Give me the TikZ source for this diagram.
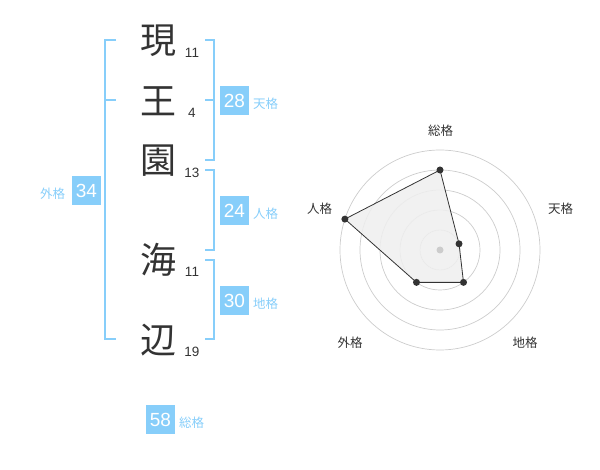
\documentclass[tikz,border=0pt]{standalone}
\usepackage{fontspec}
\setmainfont{Liberation Sans}
\newfontfamily\jpfont{Noto Sans CJK JP}
\definecolor{kakublue}{HTML}{87CEFA}
\definecolor{inkgray}{HTML}{333333}
\definecolor{ringgray}{HTML}{CCCCCC}
\definecolor{shadegray}{HTML}{EFEFEF}

\begin{document}
\begin{tikzpicture}[x=1pt,y=-1pt,
    kanji/.style={text=inkgray, font=\jpfont\fontsize{36}{36}\selectfont, inner sep=0pt},
    strokes/.style={text=inkgray, font=\fontsize{13.5}{13.5}\selectfont, inner sep=0pt, anchor=base},
    valbox/.style={fill=kakublue, text=white, font=\fontsize{19}{19}\selectfont, minimum width=29pt, minimum height=29pt, inner sep=0pt},
    kakulabel/.style={text=kakublue, font=\jpfont\fontsize{12.5}{12.5}\selectfont, inner sep=0pt},
    bracket/.style={kakublue, line width=2.2pt},
    ring/.style={ringgray, line width=0.7pt},
    axislabel/.style={text=inkgray, font=\jpfont\fontsize{12.5}{12.5}\selectfont, inner sep=0pt},
    dot/.style={fill=inkgray}]
    \useasboundingbox (0,0) rectangle (600,470);
    % name, one character per row
    \node[kanji] (k1) at (158,41) {現};
    \node[kanji] (k2) at (158,101) {王};
    \node[kanji] (k3) at (158,161) {園};
    \node[kanji] (k4) at (158,260) {海};
    \node[kanji] (k5) at (158,340) {辺};
    % stroke counts
    \node[strokes] (s1) at (192,58) {11};
    \node[strokes] (s2) at (192,118) {4};
    \node[strokes] (s3) at (192,178) {13};
    \node[strokes] (s4) at (192,277) {11};
    \node[strokes] (s5) at (192,357) {19};
    % brackets
    \draw[bracket] (116,40) -- (105,40) -- (105,339) -- (116,339);
    \draw[bracket] (105,100) -- (116,100);
    \draw[bracket] (205,40) -- (214,40) -- (214,160) -- (205,160);
    \draw[bracket] (205,100) -- (214,100);
    \draw[bracket] (205,170) -- (214,170) -- (214,250) -- (205,250);
    \draw[bracket] (205,260) -- (214,260) -- (214,339) -- (205,339);
    % values
    \node[valbox] (gai) at (86.5,190.5) {34};
    \node[kakulabel] (gai-l) at (52.5,194) {外格};
    \node[valbox] (ten) at (234.5,100.5) {28};
    \node[kakulabel, anchor=west] (ten-l) at (253,104) {天格};
    \node[valbox] (jin) at (234.5,210.5) {24};
    \node[kakulabel, anchor=west] (jin-l) at (253,214) {人格};
    \node[valbox] (chi) at (234.5,300.5) {30};
    \node[kakulabel, anchor=west] (chi-l) at (253,304) {地格};
    \node[valbox] (sou) at (160.5,419.5) {58};
    \node[kakulabel, anchor=west] (sou-l) at (179,423) {総格};
    % radar chart
    \begin{scope}[shift={(440,250)}, yscale=-1]
        \foreach \r in {20,40,...,100}
            \draw[ring] (0,0) circle (\r);
        \coordinate (r-sou) at (90:80);
        \coordinate (r-ten) at (18:20);
        \coordinate (r-chi) at (-54:40);
        \coordinate (r-gai) at (-126:40);
        \coordinate (r-jin) at (162:100);
        \draw[inkgray, line width=0.8pt, fill=shadegray, fill opacity=0.85]
            (r-sou) -- (r-ten) -- (r-chi) -- (r-gai) -- (r-jin) -- cycle;
        \fill[ringgray] (0,0) circle (3.5);
        \foreach \p in {sou,ten,chi,gai,jin}
            \fill[dot] (r-\p) circle (3.5);
    \end{scope}
    \node[axislabel] (a-sou) at (440.5,130.5) {総格};
    \node[axislabel] (a-ten) at (560.5,209) {天格};
    \node[axislabel] (a-chi) at (525,343) {地格};
    \node[axislabel] (a-gai) at (350,343) {外格};
    \node[axislabel] (a-jin) at (319.5,209) {人格};
\end{tikzpicture}
\end{document}
